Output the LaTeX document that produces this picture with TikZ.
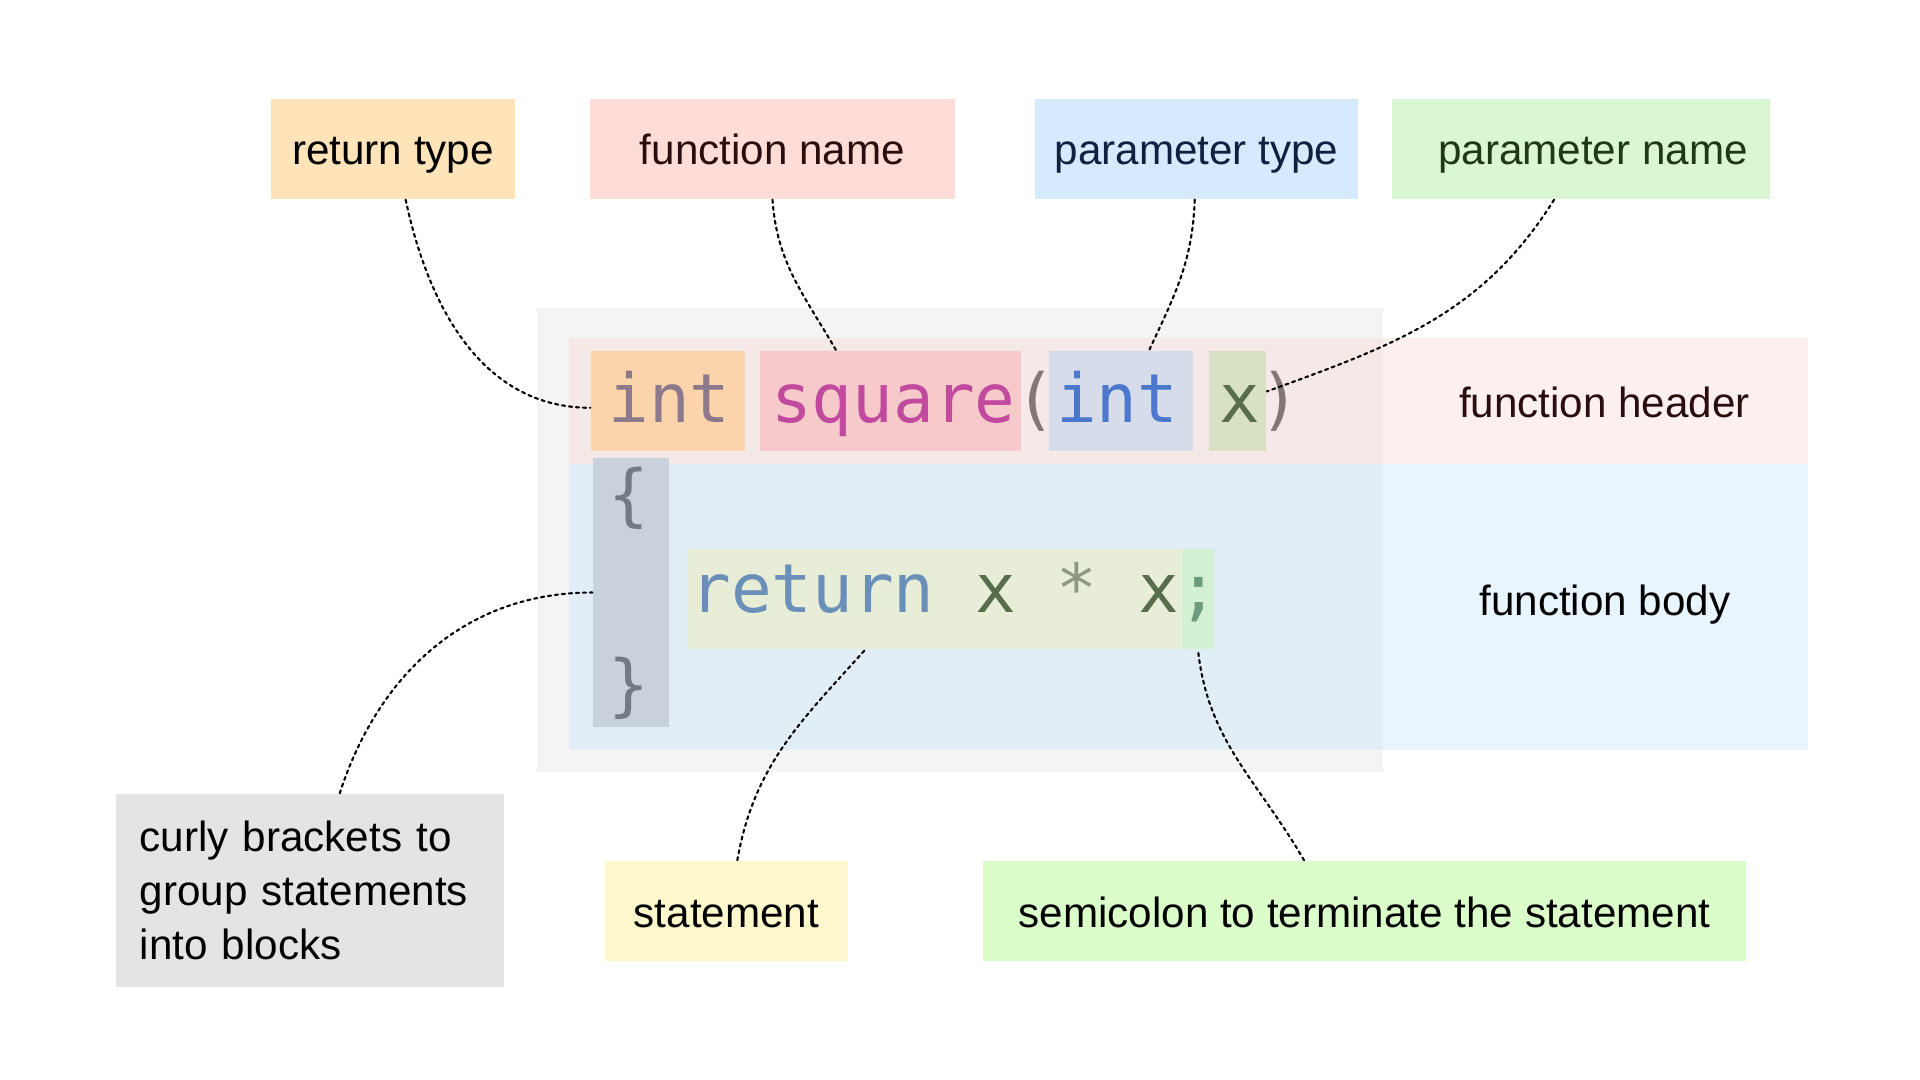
\documentclass[tikz,border=0pt]{standalone}
\usepackage{fontspec}
\setmainfont{Liberation Sans}
\newfontfamily\codefont{DejaVu Sans Mono}
\definecolor{rtfill}{HTML}{FFE3B9}
\definecolor{fnfill}{HTML}{FEDCD8}
\definecolor{ptfill}{HTML}{D6EAFD}
\definecolor{pnfill}{HTML}{DAF7D4}
\definecolor{cbfill}{HTML}{E4E4E4}
\definecolor{stfill}{HTML}{FFF8CC}
\definecolor{scfill}{HTML}{DAFDCA}
\definecolor{graybg}{HTML}{F4F4F4}
\definecolor{hdrband}{HTML}{F8D0CA}
\definecolor{bodyband}{HTML}{B9E1FC}
\definecolor{intbox}{HTML}{FBD4AC}
\definecolor{sqbox}{HTML}{F6CACA}
\definecolor{pintbox}{HTML}{D6DCEA}
\definecolor{xbox}{HTML}{D9E1C5}
\definecolor{brbox}{HTML}{C9D2DB}
\definecolor{retbox}{HTML}{E7EDD7}
\definecolor{scbox}{HTML}{D2F0D2}
\definecolor{cint}{HTML}{8C7A8C}
\definecolor{csq}{HTML}{C24A9E}
\definecolor{cpar}{HTML}{857676}
\definecolor{cpint}{HTML}{4B78CC}
\definecolor{cx}{HTML}{586E4A}
\definecolor{cbr}{HTML}{727B84}
\definecolor{cret}{HTML}{6A8FB8}
\definecolor{cstar}{HTML}{8E9880}
\definecolor{csemi}{HTML}{6E9A80}
\definecolor{tfn}{HTML}{2A0E0E}
\definecolor{tpt}{HTML}{0F2140}
\definecolor{tpn}{HTML}{1E3A14}
\begin{document}
\begin{tikzpicture}[x=0.01cm,y=0.01cm,
  lbl/.style={inner sep=0pt, minimum height=1cm, text height=0.38cm, text depth=0.06cm, font=\fontsize{12}{15.4}\selectfont},
  hl/.style={inner sep=0pt, minimum height=1cm},
  tok/.style={inner sep=0pt, font=\codefont\fontsize{19.23}{23}\selectfont},
  link/.style={line width=0.6pt, dash pattern=on 0.9pt off 1.1pt, line cap=round}]

\fill[white] (0,0) rectangle (1920,-1080);
\useasboundingbox (0,0) rectangle (1920,-1080);

\fill[graybg] (537,-308) rectangle (1383,-772);
\fill[hdrband, fill opacity=0.3] (569,-338) rectangle (1808,-464);
\fill[bodyband, fill opacity=0.3] (569,-464) rectangle (1808,-750);

\node[lbl, fill=rtfill, minimum width=2.44cm] (rtype) at (393,-149) {return type};
\node[lbl, fill=fnfill, minimum width=3.65cm, text=tfn] (fname) at (772.5,-149) {function name};
\node[lbl, fill=ptfill, minimum width=3.23cm, text=tpt] (ptype) at (1196.5,-149) {parameter type};
\node[lbl, fill=pnfill, minimum width=3.77cm, text=tpn] (pname) at (1581,-149) {\hspace*{0.24cm}parameter name};

\node[hl, fill=intbox, minimum width=1.54cm] (kint) at (668,-401) {};
\node[hl, fill=sqbox, minimum width=2.61cm] (ksq) at (890.5,-401) {};
\node[hl, fill=pintbox, minimum width=1.44cm] (kpint) at (1121,-401) {};
\node[hl, fill=xbox, minimum width=0.57cm] (kx) at (1237.5,-401) {};
\node[hl, fill=brbox, minimum width=0.76cm, minimum height=2.69cm] (kbr) at (631,-592.5) {};
\node[hl, fill=retbox, minimum width=4.94cm] (kret) at (935,-599) {};
\node[hl, fill=scbox, minimum width=0.32cm] (ksc) at (1198,-599) {};

\node[tok, anchor=base west] (hdrcode) at (607.6,-423) {\textcolor{cint}{int} \textcolor{csq}{square}\textcolor{cpar}{(}\textcolor{cpint}{int} \textcolor{cx}{x}\textcolor{cpar}{)}};
\node[tok, text=cbr] (lbrace) at (628.6,-498.5) {\{};
\node[tok, text=cbr] (rbrace) at (628.6,-688.5) {\}};
\node[tok, anchor=base west] (retcode) at (689.7,-613) {\textcolor{cret}{return} \textcolor{cx}{x} \textcolor{cstar}{*} \textcolor{cx}{x}\textcolor{csemi}{;}};

\node[lbl, text=tfn] (hdr) at (1604.5,-401) {function header};
\node[lbl] (body) at (1605,-599) {function body};

\node[lbl, fill=cbfill, minimum width=3.885cm, minimum height=1.93cm, text height=, text depth=, text width=3.405cm, inner xsep=0.24cm, align=left] (cbr) at (310,-890.5) {curly brackets to\\group statements\\into blocks};
\node[lbl, fill=stfill, minimum width=2.43cm] (stm) at (726.5,-911) {statement};
\node[lbl, fill=scfill, minimum width=7.63cm] (sem) at (1364.5,-911) {semicolon to terminate the statement};

\draw[link] (rtype.-76) to[out=-78,in=180] (kint.185);
\draw[link] (fname.south) to[out=-86,in=120] (ksq.137);
\draw[link] (ptype.-92) to[out=-92,in=65] (kpint.61);
\draw[link] (pname.-118) to[out=-122,in=20] (kx.18);
\draw[link] (cbr.73) to[out=72,in=180] (kbr.west);
\draw[link] (stm.78) to[out=80,in=-132] (kret.-144);
\draw[link] (sem.140) to[out=120,in=-84] (ksc.south);

\end{tikzpicture}
\end{document}
